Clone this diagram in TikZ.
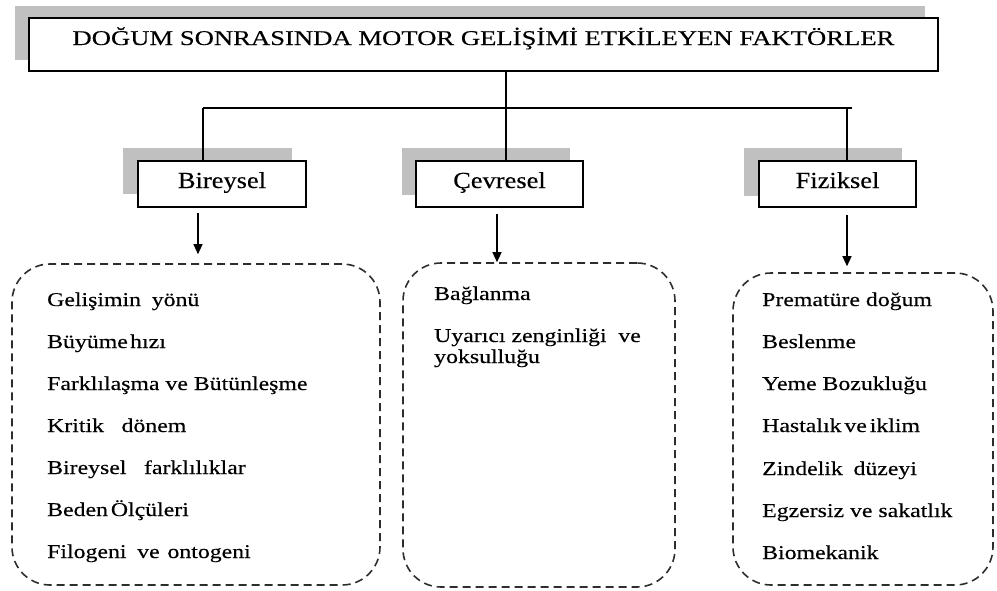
\documentclass[tikz,border=0pt]{standalone}
\usepackage{fontspec}
\setmainfont{Liberation Serif}[FakeStretch=1.22,FakeBold=0.3]
\newfontfamily\titlefont{Liberation Serif}[FakeStretch=1.27,FakeBold=0.3]
\newfontfamily\headfont{Liberation Serif}[FakeStretch=1.15,FakeBold=0.3]
\usetikzlibrary{arrows.meta}
\definecolor{backgray}{RGB}{192,192,192}
\definecolor{dashgray}{RGB}{45,45,45}

\begin{document}
\begin{tikzpicture}[x=1pt,y=-1pt,
  backdrop/.style={fill=backgray,draw=none},
  titlebox/.style={draw,line width=2.4pt,fill=white,inner sep=0pt,
    minimum width=909pt,minimum height=53pt,text height=10pt,text depth=9pt,
    font=\titlefont\fontsize{21}{25}\selectfont},
  headbox/.style={draw,line width=2.4pt,fill=white,inner sep=0pt,
    minimum height=46pt,text height=12pt,text depth=4pt,
    font=\headfont\fontsize{23}{27}\selectfont},
  group/.style={draw=dashgray,line width=1.6pt,dash pattern=on 8pt off 5pt,
    rounded corners=38pt,inner sep=0pt},
  item/.style={anchor=base west,inner sep=0pt,
    font=\fontsize{19.5}{21}\selectfont},
  wire/.style={line width=2.3pt},
  arr/.style={line width=1.3pt,-{Triangle[length=10pt,width=9pt]}}
]
\useasboundingbox (0,0) rectangle (997,590);

% title with its grey backdrop
\fill[backdrop] (15,6) rectangle (925,60);
\node[titlebox] (title) at (483.5,44.5) {DOĞUM SONRASINDA MOTOR GELİŞİMİ ETKİLEYEN FAKTÖRLER};

% the three factor groups with their backdrops
\fill[backdrop] (123,148) rectangle (292,194);
\fill[backdrop] (402,148) rectangle (570,195);
\fill[backdrop] (744,148) rectangle (902,196);

% branching lines from the title
\coordinate (hub) at (506,108);
\coordinate (jA) at (203,108);
\coordinate (jF) at (847,108);
\coordinate (jEnd) at (852,108);
\draw[wire] (title.south -| hub) -- (hub);
\draw[wire] (jA) -- (jEnd);

\node[headbox,minimum width=168pt] (bir) at (222,184) {Bireysel};
\node[headbox,minimum width=167pt] (cev) at (499.5,184) {Çevresel};
\node[headbox,minimum width=157pt] (fiz) at (837.5,184) {Fiziksel};

\draw[wire] (jA) -- (jA |- bir.north);
\draw[wire] (hub) -- (hub |- cev.north);
\draw[wire] (jF) -- (jF |- fiz.north);

% dashed groups of factors
\node[group,minimum width=368pt,minimum height=321pt] (gA) at (196,424.5) {};
\node[group,minimum width=272pt,minimum height=324pt] (gC) at (539,425) {};
\node[group,minimum width=260pt,minimum height=312pt] (gF) at (863,429) {};

% arrows down to the groups
\coordinate (aA) at (198,213);
\coordinate (aC) at (497,214);
\coordinate (aF) at (847,215);
\draw[arr,shorten >=9pt] (aA) -- (aA |- gA.north);
\draw[arr] (aC) -- (aC |- gC.north);
\draw[arr,shorten >=6pt] (aF) -- (aF |- gF.north);

% individual factors
\node[item] (a1) at (47,306) {Gelişimin\hspace{0.55em}yönü};
\node[item] (a2) at (47,348) {Büyüme\hspace{0.12em}hızı};
\node[item] (a3) at (47,390) {Farklılaşma ve Bütünleşme};
\node[item] (a4) at (47,432) {Kritik\hspace{0.9em}dönem};
\node[item] (a5) at (47,474) {Bireysel\hspace{0.9em}farklılıklar};
\node[item] (a6) at (47,516) {Beden\hspace{0.15em}Ölçüleri};
\node[item] (a7) at (47,558) {Filogeni\hspace{0.55em}ve\hspace{0.4em}ontogeni};

\node[item] (c1) at (434,300) {Bağlanma};
\node[item] (c2) at (434,342) {Uyarıcı zenginliği\hspace{0.6em}ve};
\node[item] (c3) at (434,363) {yoksulluğu};

\node[item] (f1) at (762,306) {Prematüre doğum};
\node[item] (f2) at (762,348) {Beslenme};
\node[item] (f3) at (762,390) {Yeme Bozukluğu};
\node[item] (f4) at (762,432) {Hastalık\hspace{0.15em}ve\hspace{0.15em}iklim};
\node[item] (f5) at (762,475) {Zindelik\hspace{0.55em}düzeyi};
\node[item] (f6) at (762,517) {Egzersiz ve sakatlık};
\node[item] (f7) at (762,559) {Biomekanik};
\end{tikzpicture}
\end{document}
